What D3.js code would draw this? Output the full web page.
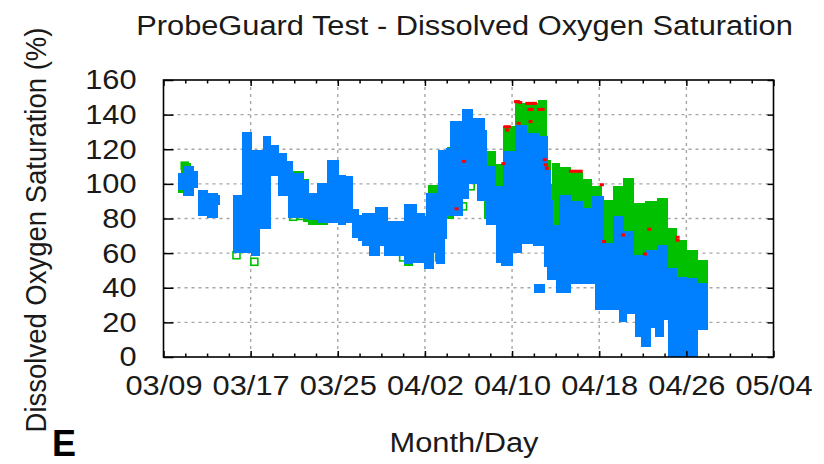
<!DOCTYPE html>
<html>
<head>
<meta charset="utf-8">
<script src="https://cdn.jsdelivr.net/npm/d3@7"></script>
<style>
  body { margin: 0; background: #fff; }
  svg { display: block; }
  text { font-family: "Liberation Sans", Arial, sans-serif; fill: #1a1a1a; }
</style>
</head>
<body>
<div id="chart"></div>
<script>
/* DATA */
// time is counted in days from 03/09 00:00
const startDay = Date.UTC(2010, 2, 9);
const endDays = 56; // 05/04

const tickLabels = ["03/09", "03/17", "03/25", "04/02", "04/10", "04/18", "04/26", "05/04"];
const yTicks = [0, 20, 40, 60, 80, 100, 120, 140, 160];

// blue series: [from day, to day, low %, high %]
const blueSegs = [
  [1.35, 1.82, 96.7, 106.3], [1.82, 2.75, 92.9, 110.2], [2.75, 3.05, 97.7, 107.3],
  [3.14, 3.96, 81.3, 96.7], [3.96, 4.88, 80.4, 94.8], [4.88, 5.13, 88, 93.3],
  [6.35, 7.18, 60.2, 93.8], [7.18, 8.0, 60, 130], [8.0, 8.8, 58.3, 119.8],
  [8.8, 9.17, 73.7, 119.8], [9.17, 9.78, 73.7, 127.9], [9.78, 10.55, 104.4, 122.7],
  [10.55, 11.3, 92.9, 117.9], [11.3, 11.46, 92.9, 113], [11.46, 11.77, 80.4, 113],
  [11.77, 12.84, 80.4, 106.3], [12.84, 13.3, 79.5, 102.5], [13.3, 14.05, 79.4, 94.8],
  [14.05, 15.0, 77.5, 100.6], [15.0, 16.06, 77.5, 114], [16.06, 16.7, 76.5, 105.4],
  [16.7, 17.3, 77.5, 104.4], [17.3, 17.9, 69, 85.2], [17.9, 18.2, 66.9, 82.3],
  [18.2, 18.84, 64, 83.3], [18.84, 19.46, 58.3, 83.3], [19.46, 19.77, 58.3, 86.7],
  [19.77, 20.23, 64, 86.7], [20.23, 20.54, 58.3, 86.7], [20.54, 22.1, 58.3, 78.5],
  [22.1, 22.86, 53.5, 88.2], [22.86, 23.17, 54.4, 88.2], [23.17, 23.94, 54.4, 83.3],
  [23.94, 24.1, 50.6, 81.3], [24.1, 24.77, 50.6, 94.8], [24.77, 25.0, 60, 94.8],
  [25.0, 25.17, 53.5, 94.8], [25.17, 25.8, 53.5, 119.8], [25.8, 25.95, 67.9, 119.8],
  [25.95, 26.3, 81.3, 120.8], [26.3, 27.4, 81.3, 136.2], [27.4, 28.0, 91, 143.3],
  [28.0, 28.3, 100, 143.3], [28.3, 28.8, 100, 138], [28.8, 29.4, 90, 138],
  [29.4, 29.6, 90, 131.3], [29.6, 30.44, 76, 110.2], [30.44, 30.55, 76, 98.7],
  [30.55, 31.0, 54.4, 98.7], [31.0, 31.2, 52.5, 98.7], [31.2, 31.97, 52.5, 118.8],
  [31.97, 32.3, 60.2, 118.8], [32.3, 32.86, 60.2, 134.2], [32.86, 33.3, 65, 134.2],
  [33.3, 33.94, 65, 129.4], [33.94, 34.4, 64, 129.4], [34.4, 34.9, 64, 127.5],
  [34.0, 34.9, 37, 42], [34.9, 35.2, 52, 127.5], [35.2, 35.45, 44.5, 108],
  [35.45, 35.7, 44.5, 90.8], [35.7, 36.0, 44.5, 76.3], [36.0, 36.3, 37, 76.3],
  [36.3, 37.3, 37, 93.7], [37.3, 38.4, 42, 89.9], [38.4, 39.3, 42, 86],
  [39.3, 39.65, 42, 92.8], [39.65, 40.35, 27.1, 92.8], [40.35, 41.3, 27.1, 65.7],
  [41.3, 41.8, 27.1, 81.2], [41.8, 42.2, 20.3, 81.2], [42.2, 42.5, 20.3, 72.5],
  [42.5, 43.1, 25.1, 72.5], [43.1, 43.3, 25.1, 59], [43.3, 43.8, 11.6, 59],
  [43.8, 44.2, 5.8, 59], [44.2, 44.7, 5.8, 61.9], [44.7, 45.1, 16.5, 61.9],
  [45.1, 45.3, 11.6, 61.9], [45.3, 45.9, 11.6, 64.8], [45.9, 46.2, 21.3, 64.8],
  [46.2, 46.3, 21.3, 51.2], [46.3, 47.1, 0, 51.2], [47.1, 48.0, 0, 46.4],
  [48.0, 48.95, 0, 45.4], [48.95, 49.9, 15.5, 42.5]
];

// green series: [from day, to day, low %, high %]
const greenSegs = [
  [1.35, 1.82, 94.5, 106.5], [1.6, 2.4, 100, 112], [6.35, 6.8, 60, 92],
  [11.46, 12.84, 82, 107.5], [12.84, 13.3, 78, 103], [13.3, 15.0, 76, 95],
  [22.1, 22.86, 52.5, 88], [24.3, 25.3, 60, 99.6], [26.0, 26.6, 80, 121.5],
  [29.4, 30.44, 80, 118.8], [30.44, 31.2, 80, 111.2], [31.2, 32.3, 80, 133.3],
  [32.3, 33.3, 80, 147], [33.3, 34.4, 80, 146.7], [34.4, 35.1, 80, 148.7],
  [35.1, 35.45, 80, 114], [35.45, 35.7, 60, 100], [35.7, 36.3, 60, 112],
  [36.3, 37.35, 60, 110], [37.35, 38.4, 60, 107], [38.4, 39.3, 60, 103],
  [39.3, 40.2, 60, 99], [40.2, 41.3, 50, 90.8], [41.3, 42.2, 50, 98.6],
  [42.2, 43.1, 50, 103.4], [43.1, 44.2, 45, 88.9], [44.2, 45.3, 45, 89.9],
  [45.3, 46.2, 45, 91.8], [46.2, 47.1, 40, 74.4], [47.1, 48.0, 40, 67.7],
  [48.0, 48.95, 40, 61.9], [48.95, 49.9, 40, 56.1]
];

// single green readings away from the bulk: [day, %]
const greenPoints = [
  [1.95, 110.5], [6.7, 58.8], [8.34, 55], [9.4, 79.5], [11.9, 81], [12.6, 81.5],
  [22.0, 57.5], [25.3, 57.5], [27.5, 87], [27.1, 88], [28.2, 98.6], [25.5, 97]
];

// red series: [day, %]
const redPoints = [
  [31.4, 133], [31.55, 131], [31.7, 133], [32.35, 147.5], [32.55, 147.5], [32.75, 147],
  [33.4, 146.5], [33.6, 146.5], [33.9, 146.5], [34.1, 146.5], [33.6, 143], [33.8, 143],
  [34.5, 143], [34.8, 143], [32.6, 135], [33.7, 136], [27.6, 113], [31.2, 111.7],
  [26.9, 85.6], [35.0, 114], [35.1, 111], [35.2, 109], [37.4, 107.3], [37.7, 107.3],
  [38.0, 107.3], [38.3, 107.3], [40.25, 99.5], [40.45, 66.7], [42.2, 70.5],
  [44.6, 73.8], [44.2, 59.5], [47.2, 69.2], [47.2, 67.5]
];

/* LAYOUT */
const width = 824, height = 464;
const plot = { left: 163.5, right: 773.5, top: 80, bottom: 357 };
const blue = "#0080ff", green = "#00c000", red = "#ff0000";
const toDate = d => new Date(startDay + d * 864e5);

const xScale = d3.scaleUtc()
  .domain([toDate(0), toDate(endDays)])
  .range([plot.left, plot.right]);
const yScale = d3.scaleLinear()
  .domain([0, 160])
  .range([plot.bottom, plot.top]);

const majorDates = tickLabels.map((_, i) => toDate(i * 8));
const minorDates = d3.range(0, endDays + 1, 2).filter(d => d % 8 !== 0).map(toDate);
const fmt = d3.utcFormat("%m/%d");

const svg = d3.select("#chart").append("svg")
  .attr("width", width)
  .attr("height", height);

// GRID
svg.append("g")
  .selectAll("line")
  .data(yTicks.slice(1, -1))
  .join("line")
  .attr("x1", plot.left).attr("x2", plot.right)
  .attr("y1", d => yScale(d)).attr("y2", d => yScale(d))
  .attr("stroke", "#a6a6a6").attr("stroke-width", 1.4).attr("stroke-dasharray", "3,4");

svg.append("g")
  .selectAll("line")
  .data(majorDates.slice(1, -1))
  .join("line")
  .attr("x1", d => xScale(d)).attr("x2", d => xScale(d))
  .attr("y1", plot.top).attr("y2", plot.bottom)
  .attr("stroke", "#a6a6a6").attr("stroke-width", 1.4).attr("stroke-dasharray", "3,4");

// DATA MARKS
// each segment a touch wider than its span so neighbours join without seams
const segRect = (sel, color) => sel
  .attr("x", d => xScale(toDate(d[0])))
  .attr("width", d => xScale(toDate(d[1])) - xScale(toDate(d[0])) + 0.9)
  .attr("y", d => yScale(d[3]))
  .attr("height", d => yScale(d[2]) - yScale(d[3]))
  .attr("fill", color)
  .attr("shape-rendering", "crispEdges");

svg.append("g").selectAll("rect").data(greenSegs).join("rect").call(segRect, green);

svg.append("g").selectAll("rect").data(greenPoints).join("rect")
  .attr("x", d => xScale(toDate(d[0])) - 3.5)
  .attr("y", d => yScale(d[1]) - 3.5)
  .attr("width", 7).attr("height", 7)
  .attr("fill", "none").attr("stroke", green).attr("stroke-width", 1.6);

svg.append("g").selectAll("rect").data(blueSegs).join("rect").call(segRect, blue);

svg.append("g").selectAll("rect").data(redPoints).join("rect")
  .attr("x", d => xScale(toDate(d[0])) - 2)
  .attr("y", d => yScale(d[1]) - 1.5)
  .attr("width", 4).attr("height", 3)
  .attr("fill", red);

// AXES
const styleAxis = g => {
  g.select(".domain").remove();
  g.selectAll(".tick line").attr("stroke", "#000").attr("stroke-width", 1.5);
  g.selectAll("text")
    .attr("font-size", 28)
    .attr("font-family", "'Liberation Sans', Arial, sans-serif")
    .attr("fill", "#1a1a1a");
};

svg.append("g")
  .attr("transform", `translate(0,${plot.bottom})`)
  .call(d3.axisBottom(xScale).tickValues(majorDates).tickFormat(fmt).tickSize(-6).tickPadding(18))
  .call(styleAxis)
  .call(g => g.selectAll("text").attr("transform", "scale(1.1,1)"));

svg.append("g")
  .attr("transform", `translate(0,${plot.bottom})`)
  .call(d3.axisBottom(xScale).tickValues(minorDates).tickFormat("").tickSize(-3.5))
  .call(styleAxis);

svg.append("g")
  .attr("transform", `translate(0,${plot.top})`)
  .call(d3.axisTop(xScale).tickValues(majorDates).tickFormat("").tickSize(-6))
  .call(styleAxis);

svg.append("g")
  .attr("transform", `translate(0,${plot.top})`)
  .call(d3.axisTop(xScale).tickValues(minorDates).tickFormat("").tickSize(-3.5))
  .call(styleAxis);

svg.append("g")
  .attr("transform", `translate(${plot.left},0)`)
  .call(d3.axisLeft(yScale).tickValues(yTicks).tickSize(-10).tickPadding(24.5))
  .call(styleAxis)
  .call(g => g.selectAll("text").attr("transform", "scale(1.1,1)"));

svg.append("g")
  .attr("transform", `translate(${plot.right},0)`)
  .call(d3.axisRight(yScale).tickValues(yTicks).tickFormat("").tickSize(-6))
  .call(styleAxis);

// frame
svg.append("rect")
  .attr("x", plot.left).attr("y", plot.top)
  .attr("width", plot.right - plot.left).attr("height", plot.bottom - plot.top)
  .attr("fill", "none").attr("stroke", "#000").attr("stroke-width", 1.6);

// TITLES
svg.append("text")
  .attr("transform", "translate(464.5,35) scale(1.1,1)")
  .attr("text-anchor", "middle").attr("font-size", 28)
  .text("ProbeGuard Test - Dissolved Oxygen Saturation");

svg.append("text")
  .attr("transform", "translate(464,452) scale(1.1,1)")
  .attr("text-anchor", "middle").attr("font-size", 28)
  .text("Month/Day");

svg.append("text")
  .attr("transform", "translate(46,230) scale(1.1,1) rotate(-90)")
  .attr("text-anchor", "middle").attr("font-size", 27.5)
  .text("Dissolved Oxygen Saturation (%)");

svg.append("text")
  .attr("x", 52).attr("y", 456)
  .attr("font-size", 36).attr("font-weight", "bold").style("fill", "#000")
  .text("E");
</script>
</body>
</html>
